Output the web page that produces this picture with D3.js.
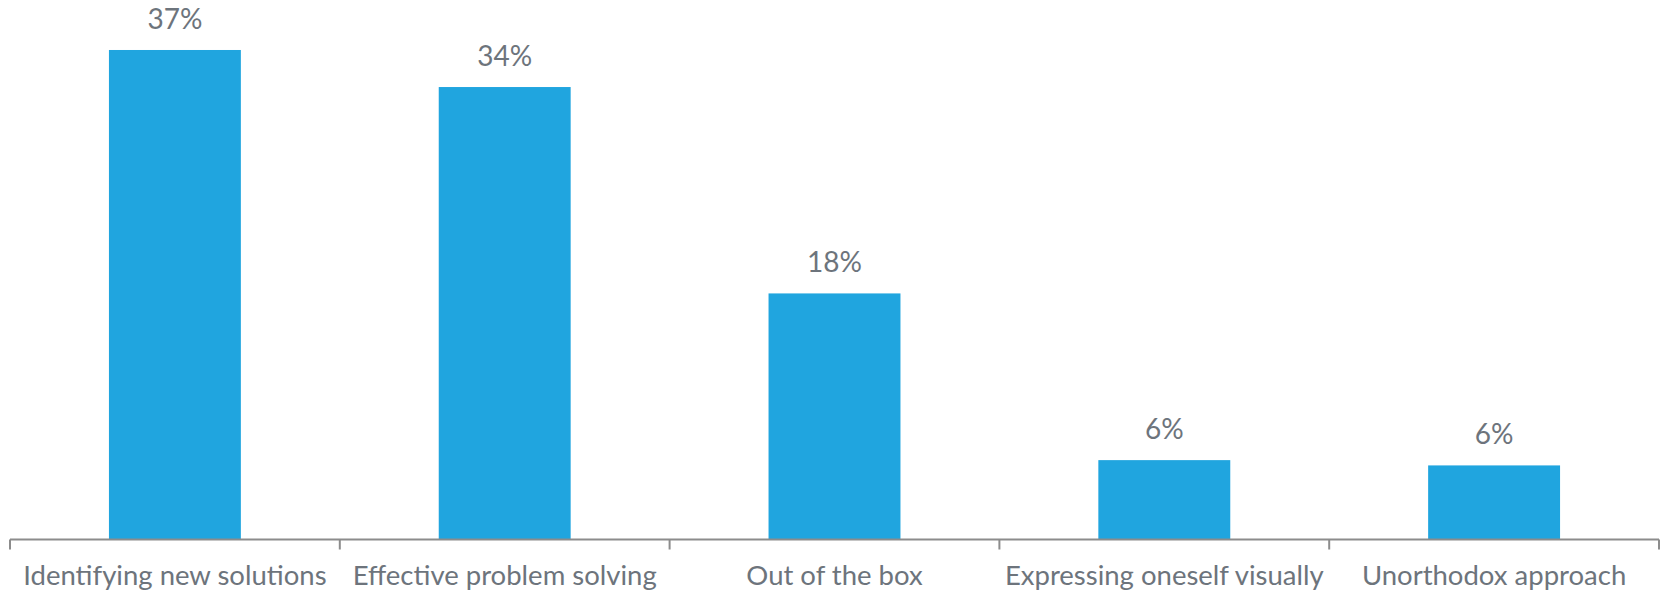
<!DOCTYPE html>
<html>
<head>
<meta charset="utf-8">
<script src="https://cdn.jsdelivr.net/npm/d3@7"></script>
<style>
  body { margin: 0; background: #fff; }
  svg text { font-family: Lato, "Open Sans", sans-serif; fill: #6d747c; }
</style>
</head>
<body>
<svg id="chart"></svg>
<script>
// categories, values (percent) and the printed value labels
const categories = [
    "Identifying new solutions",
    "Effective problem solving",
    "Out of the box",
    "Expressing oneself visually",
    "Unorthodox approach"
];
const values = [37, 34.2, 18.6, 6.0, 5.6];
const valueLabels = ["37%", "34%", "18%", "6%", "6%"];

const BAR_COLOR = "#20a5df";
const AXIS_COLOR = "#8c8c8c";

function drawBar() {
    const width = 1662, height = 594;
    const baseline = 539.5;

    const svg = d3.select("#chart")
        .attr("width", width)
        .attr("height", height);

    // x: one band per category, ticks sit on band edges
    const x = d3.scaleBand()
        .domain(categories)
        .range([10, 1659])
        .padding(0);

    const y = d3.scaleLinear()
        .domain([0, 40])
        .range([baseline, 10.3]);

    const barW = x.bandwidth() * 0.4;
    const barX = c => x(c) + x.bandwidth() * 0.3;

    // bars
    svg.selectAll(".mybar")
        .data(values)
        .join("rect")
        .attr("class", "mybar")
        .attr("x", (_d, i) => barX(categories[i]))
        .attr("y", d => y(d))
        .attr("width", barW)
        .attr("height", d => baseline - y(d))
        .attr("fill", BAR_COLOR);

    // value labels
    svg.selectAll(".vlabel")
        .data(values)
        .join("text")
        .attr("class", "vlabel")
        .attr("x", (_d, i) => barX(categories[i]) + barW / 2)
        .attr("y", d => y(d) - 21)
        .attr("text-anchor", "middle")
        .style("font-size", "28px")
        .text((_d, i) => valueLabels[i]);

    // axis line
    svg.append("line")
        .attr("x1", x.range()[0]).attr("x2", x.range()[1])
        .attr("y1", baseline).attr("y2", baseline)
        .attr("stroke", AXIS_COLOR)
        .attr("stroke-width", 2);

    // boundary ticks
    const edges = categories.map(c => x(c)).concat([x.range()[1]]);
    svg.selectAll(".edge")
        .data(edges)
        .join("line")
        .attr("class", "edge")
        .attr("x1", d => d).attr("x2", d => d)
        .attr("y1", baseline).attr("y2", baseline + 10)
        .attr("stroke", AXIS_COLOR)
        .attr("stroke-width", 2);

    // category labels
    svg.selectAll(".clabel")
        .data(categories)
        .join("text")
        .attr("class", "clabel")
        .attr("x", c => x(c) + x.bandwidth() / 2)
        .attr("y", 585)
        .attr("text-anchor", "middle")
        .style("font-size", "27.5px")
        .text(c => c);
}

drawBar();
</script>
</body>
</html>
